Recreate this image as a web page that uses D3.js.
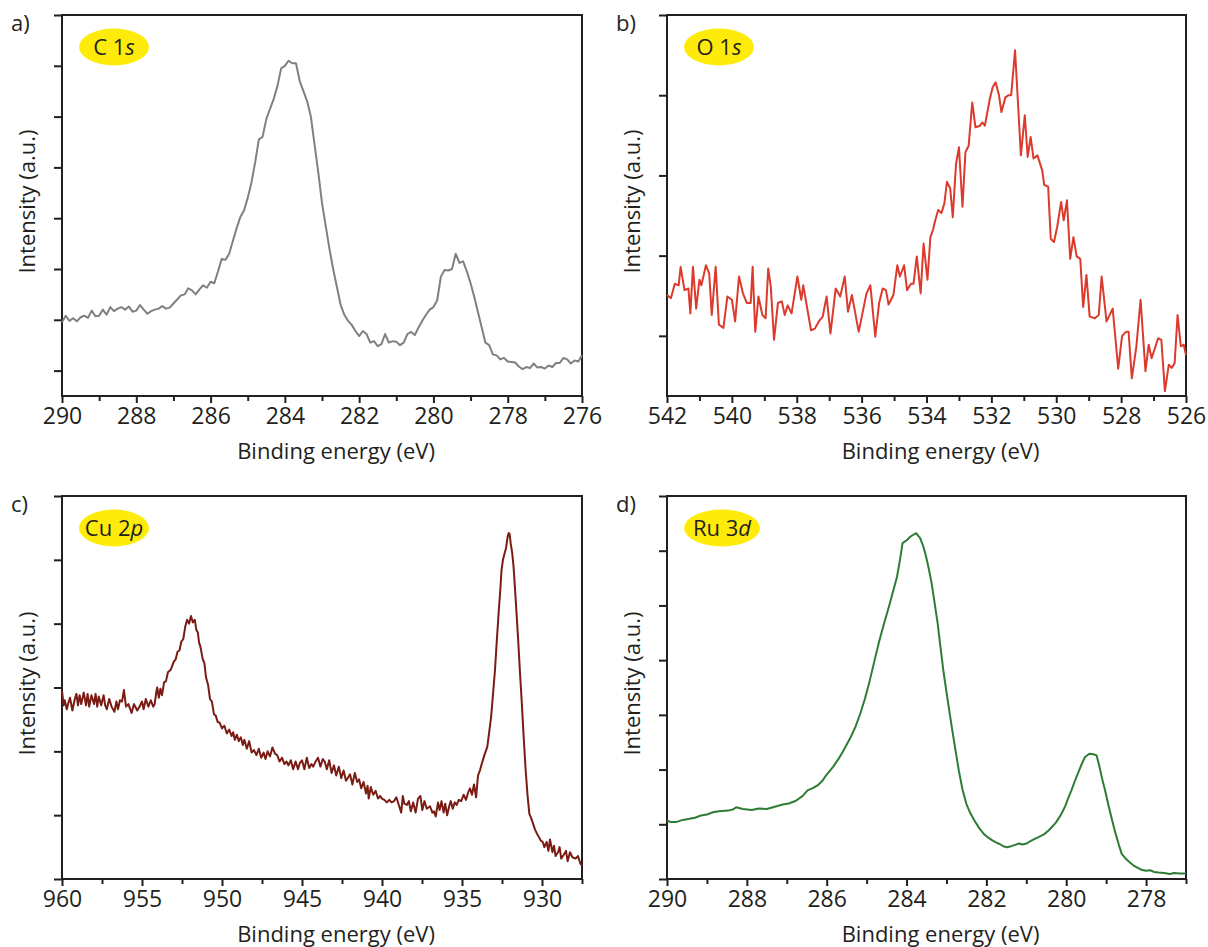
<!DOCTYPE html>
<html>
<head>
<meta charset="utf-8">
<script src="https://cdn.jsdelivr.net/npm/d3@7"></script>
<style>
  body { margin: 0; background: #fff; }
  svg { display: block; }
  text { font-family: "Open Sans", sans-serif; fill: #231f20; }
</style>
</head>
<body>
<div id="grafica"></div>
<script>
// datos: [energia de enlace (eV), intensidad (u.a.)]
var c1s = [
  [290.0,0.95],[289.9,1.08],[289.8,0.98],[289.7,1.03],[289.6,0.97],[289.5,1.05],[289.4,1.08],[289.3,1.04],
  [289.2,1.18],[289.1,1.07],[289.0,1.08],[288.9,1.2],[288.8,1.1],[288.7,1.25],[288.6,1.17],[288.5,1.22],
  [288.4,1.25],[288.3,1.2],[288.2,1.26],[288.1,1.16],[288.0,1.18],[287.9,1.29],[287.8,1.2],[287.7,1.12],
  [287.6,1.17],[287.5,1.2],[287.4,1.22],[287.3,1.27],[287.2,1.22],[287.1,1.24],[287.0,1.32],[286.9,1.4],
  [286.8,1.48],[286.7,1.5],[286.6,1.62],[286.5,1.58],[286.4,1.5],[286.3,1.6],[286.2,1.68],[286.1,1.63],
  [286.0,1.75],[285.9,1.72],[285.8,1.95],[285.7,2.2],[285.6,2.18],[285.5,2.3],[285.4,2.55],[285.3,2.8],
  [285.2,3.02],[285.1,3.15],[285.0,3.4],[284.9,3.7],[284.8,4.1],[284.7,4.55],[284.6,4.6],[284.5,4.95],
  [284.4,5.15],[284.3,5.35],[284.2,5.6],[284.1,5.95],[284.0,6.0],[283.9,6.1],[283.8,6.05],[283.7,6.05],
  [283.6,5.7],[283.5,5.5],[283.4,5.3],[283.3,5.0],[283.2,4.45],[283.1,3.9],[283.0,3.3],[282.9,2.85],
  [282.8,2.4],[282.7,2.0],[282.6,1.65],[282.5,1.3],[282.4,1.1],[282.3,0.98],[282.2,0.9],[282.1,0.78],
  [282.0,0.68],[281.9,0.78],[281.8,0.72],[281.7,0.55],[281.6,0.58],[281.5,0.48],[281.4,0.52],[281.3,0.72],
  [281.2,0.55],[281.1,0.58],[281.0,0.57],[280.9,0.5],[280.8,0.55],[280.7,0.72],[280.6,0.76],[280.5,0.7],
  [280.4,0.85],[280.3,0.98],[280.2,1.1],[280.1,1.2],[280.0,1.25],[279.9,1.38],[279.8,1.85],[279.7,1.98],
  [279.6,1.97],[279.5,2.0],[279.4,2.3],[279.3,2.12],[279.2,2.15],[279.1,1.95],[279.0,1.72],[278.9,1.45],
  [278.8,1.15],[278.7,0.85],[278.6,0.55],[278.5,0.5],[278.4,0.32],[278.3,0.3],[278.2,0.22],[278.1,0.25],
  [278.0,0.18],[277.9,0.17],[277.8,0.16],[277.7,0.08],[277.6,0.03],[277.5,0.07],[277.4,0.05],[277.3,0.14],
  [277.2,0.06],[277.1,0.07],[277.0,0.04],[276.9,0.1],[276.8,0.07],[276.7,0.15],[276.6,0.15],[276.5,0.25],
  [276.4,0.22],[276.3,0.14],[276.2,0.2],[276.1,0.18],[276.0,0.3]
];

var o1s = [
  [542.0,0.51],[541.88,0.47],[541.76,0.65],[541.64,0.63],[541.58,0.86],[541.46,0.57],[541.34,0.59],[541.28,0.28],
  [541.2,0.86],[541.1,0.34],[541.0,0.7],[540.94,0.63],[540.8,0.88],[540.7,0.78],[540.62,0.26],[540.5,0.86],
  [540.4,0.14],[540.26,0.1],[540.14,0.49],[540.0,0.45],[539.9,0.18],[539.78,0.74],[539.66,0.53],[539.54,0.41],
  [539.42,0.41],[539.36,0.86],[539.28,0.05],[539.18,0.49],[539.06,0.26],[538.96,0.22],[538.88,0.84],[538.8,0.61],
  [538.7,-0.05],[538.58,0.41],[538.46,0.43],[538.37,0.26],[538.28,0.38],[538.16,0.28],[537.98,0.74],[537.86,0.45],
  [537.8,0.63],[537.56,0.07],[537.44,0.09],[537.32,0.18],[537.2,0.24],[537.08,0.49],[536.96,0.03],[536.8,0.59],
  [536.66,0.49],[536.52,0.74],[536.42,0.3],[536.3,0.51],[536.09,0.05],[535.85,0.53],[535.73,0.63],[535.58,-0.01],
  [535.46,0.41],[535.35,0.59],[535.25,0.57],[535.17,0.39],[535.02,0.51],[534.9,0.88],[534.82,0.74],[534.69,0.88],
  [534.6,0.57],[534.48,0.65],[534.4,0.65],[534.3,0.99],[534.18,0.53],[534.09,1.15],[533.97,0.7],[533.88,1.23],
  [533.8,1.32],[533.73,1.44],[533.64,1.57],[533.54,1.53],[533.45,1.65],[533.37,1.92],[533.27,1.84],[533.19,1.48],
  [533.09,2.14],[533.0,2.35],[532.89,1.61],[532.8,2.29],[532.7,2.37],[532.59,2.91],[532.49,2.6],[532.35,2.62],
  [532.28,2.66],[532.2,2.62],[532.05,2.95],[531.96,3.1],[531.87,3.16],[531.77,3.01],[531.69,2.79],[531.57,2.97],
  [531.48,3.0],[531.39,3.0],[531.27,3.56],[531.09,2.25],[530.97,2.75],[530.88,2.23],[530.79,2.48],[530.7,2.21],
  [530.58,2.25],[530.43,2.06],[530.37,1.88],[530.25,1.86],[530.17,1.21],[530.07,1.17],[529.97,1.36],[529.85,1.67],
  [529.77,1.44],[529.67,1.69],[529.57,0.96],[529.47,1.23],[529.37,0.99],[529.26,0.96],[529.17,0.36],[529.07,0.76],
  [528.97,0.24],[528.81,0.22],[528.69,0.26],[528.6,0.74],[528.45,0.18],[528.26,0.34],[528.09,-0.41],[527.97,0.0],
  [527.85,0.05],[527.77,0.05],[527.67,-0.53],[527.53,-0.13],[527.4,0.45],[527.25,-0.44],[527.15,-0.11],[527.06,-0.28],
  [526.86,-0.03],[526.76,-0.05],[526.65,-0.69],[526.53,-0.36],[526.44,-0.4],[526.35,-0.34],[526.26,0.26],[526.16,-0.13],
  [526.07,-0.11],[526.0,-0.24]
];

var cu2p = [
  [960.0,2.95],[959.9,2.72],[959.83,2.8],[959.7,2.66],[959.6,2.76],[959.5,2.84],[959.35,2.64],[959.2,2.82],
  [959.1,2.9],[959.0,2.72],[958.9,2.88],[958.8,2.74],[958.64,2.92],[958.5,2.72],[958.4,2.9],[958.3,2.7],
  [958.16,2.88],[958.0,2.74],[957.9,2.9],[957.8,2.7],[957.7,2.86],[957.55,2.72],[957.4,2.88],[957.3,2.72],
  [957.2,2.66],[957.05,2.82],[956.9,2.7],[956.72,2.62],[956.6,2.78],[956.5,2.66],[956.38,2.8],[956.25,2.78],
  [956.13,2.96],[956.0,2.7],[955.85,2.74],[955.65,2.6],[955.5,2.74],[955.3,2.64],[955.15,2.7],[955.0,2.78],
  [954.9,2.66],[954.76,2.82],[954.6,2.7],[954.45,2.8],[954.3,2.7],[954.21,2.74],[954.1,2.94],[954.05,3.0],
  [953.95,2.84],[953.85,2.98],[953.75,2.88],[953.62,3.08],[953.5,3.1],[953.38,3.24],[953.2,3.28],[953.02,3.4],
  [952.9,3.44],[952.78,3.56],[952.66,3.58],[952.54,3.72],[952.42,3.76],[952.3,3.95],[952.18,4.06],[952.06,4.0],
  [951.94,4.12],[951.82,4.02],[951.7,4.06],[951.6,3.9],[951.51,3.86],[951.43,3.7],[951.35,3.64],[951.2,3.44],
  [951.1,3.38],[951.0,3.16],[950.87,3.04],[950.75,2.82],[950.63,2.78],[950.5,2.58],[950.39,2.56],[950.27,2.46],
  [950.15,2.45],[950.0,2.36],[949.85,2.4],[949.7,2.28],[949.55,2.34],[949.4,2.24],[949.3,2.3],[949.2,2.18],
  [949.07,2.26],[948.95,2.16],[948.82,2.22],[948.7,2.1],[948.6,2.18],[948.45,2.04],[948.3,2.16],[948.15,1.98],
  [948.0,2.02],[947.85,1.94],[947.7,2.04],[947.55,1.9],[947.4,1.98],[947.28,1.88],[947.15,2.0],[947.0,1.92],
  [946.85,2.06],[946.68,1.96],[946.55,1.94],[946.4,1.84],[946.25,1.9],[946.1,1.8],[945.97,1.84],[945.85,1.78],
  [945.7,1.86],[945.55,1.72],[945.4,1.84],[945.25,1.72],[945.13,1.82],[945.0,1.86],[944.85,1.72],[944.7,1.9],
  [944.55,1.74],[944.41,1.8],[944.3,1.76],[944.15,1.84],[944.0,1.9],[943.85,1.76],[943.7,1.88],[943.58,1.84],
  [943.45,1.72],[943.3,1.86],[943.15,1.66],[943.0,1.78],[942.86,1.62],[942.7,1.76],[942.55,1.58],[942.4,1.7],
  [942.25,1.54],[942.14,1.58],[942.0,1.64],[941.85,1.48],[941.7,1.66],[941.55,1.52],[941.43,1.56],[941.3,1.42],
  [941.15,1.52],[941.0,1.34],[940.9,1.46],[940.83,1.26],[940.7,1.44],[940.55,1.32],[940.4,1.38],[940.25,1.26],
  [940.11,1.3],[940.0,1.26],[939.85,1.24],[939.7,1.2],[939.55,1.24],[939.4,1.2],[939.25,1.22],[939.1,1.28],
  [938.95,1.16],[938.8,1.04],[938.7,1.3],[938.6,1.18],[938.45,1.16],[938.32,1.22],[938.2,1.06],[938.05,1.2],
  [937.9,1.04],[937.75,1.26],[937.6,1.3],[937.48,1.08],[937.35,1.22],[937.2,1.1],[937.0,1.14],[936.85,1.04],
  [936.75,1.06],[936.64,0.98],[936.5,1.2],[936.4,1.08],[936.28,1.22],[936.15,1.04],[936.05,1.18],[935.93,1.0],
  [935.8,1.14],[935.7,1.22],[935.58,1.1],[935.45,1.2],[935.33,1.16],[935.2,1.24],[935.05,1.22],[934.9,1.32],
  [934.75,1.24],[934.61,1.36],[934.5,1.42],[934.38,1.32],[934.25,1.48],[934.12,1.28],[934.0,1.62],[933.88,1.7],
  [933.77,1.8],[933.6,1.94],[933.42,2.07],[933.3,2.3],[933.18,2.54],[933.06,2.9],[932.94,3.27],[932.82,3.75],
  [932.7,4.21],[932.6,4.55],[932.53,4.84],[932.44,5.0],[932.34,5.1],[932.25,5.18],[932.15,5.36],[932.08,5.42],
  [932.03,5.41],[931.95,5.25],[931.86,5.1],[931.78,4.9],[931.7,4.6],[931.6,4.2],[931.5,3.79],[931.38,3.25],
  [931.26,2.75],[931.14,2.2],[931.02,1.7],[930.9,1.3],[930.79,1.02],[930.67,0.95],[930.55,0.86],[930.43,0.77],
  [930.31,0.71],[930.2,0.66],[930.07,0.6],[929.95,0.58],[929.85,0.5],[929.71,0.58],[929.6,0.44],[929.5,0.62],
  [929.35,0.42],[929.25,0.52],[929.15,0.36],[929.0,0.42],[928.9,0.5],[928.8,0.32],[928.64,0.38],[928.5,0.44],
  [928.4,0.28],[928.25,0.42],[928.1,0.34],[927.9,0.32],[927.75,0.36],[927.6,0.24],[927.5,0.21]
];

var ru3d = [
  [290.0,1.07],[289.9,1.04],[289.78,1.04],[289.6,1.08],[289.44,1.1],[289.3,1.12],[289.15,1.16],[289.0,1.18],
  [288.85,1.22],[288.7,1.24],[288.47,1.25],[288.35,1.27],[288.27,1.31],[288.1,1.28],[287.88,1.26],[287.7,1.29],
  [287.5,1.28],[287.3,1.32],[287.1,1.36],[286.95,1.38],[286.77,1.43],[286.6,1.52],[286.48,1.62],[286.35,1.66],
  [286.23,1.71],[286.1,1.8],[286.04,1.87],[285.84,2.05],[285.7,2.2],[285.6,2.32],[285.4,2.59],[285.28,2.78],
  [285.16,3.02],[285.04,3.3],[284.92,3.63],[284.8,4.0],[284.68,4.36],[284.56,4.68],[284.44,4.98],[284.34,5.25],
  [284.24,5.52],[284.16,5.85],[284.1,6.14],[283.98,6.2],[283.9,6.26],[283.76,6.32],[283.66,6.23],[283.58,6.08],
  [283.51,5.89],[283.44,5.66],[283.37,5.4],[283.3,5.06],[283.22,4.67],[283.15,4.24],[283.08,3.82],[282.98,3.32],
  [282.88,2.84],[282.78,2.38],[282.69,1.98],[282.6,1.64],[282.5,1.37],[282.4,1.2],[282.3,1.07],[282.18,0.93],
  [282.06,0.82],[281.96,0.76],[281.86,0.71],[281.76,0.67],[281.67,0.64],[281.58,0.6],[281.48,0.58],[281.38,0.6],
  [281.3,0.62],[281.18,0.65],[281.1,0.63],[280.99,0.65],[280.9,0.69],[280.8,0.73],[280.68,0.77],[280.55,0.82],
  [280.45,0.88],[280.36,0.95],[280.26,1.03],[280.17,1.13],[280.1,1.22],[280.02,1.34],[279.95,1.48],[279.87,1.62],
  [279.78,1.8],[279.68,1.98],[279.6,2.12],[279.53,2.23],[279.42,2.29],[279.32,2.28],[279.24,2.26],[279.17,2.06],
  [279.1,1.83],[279.02,1.6],[278.95,1.37],[278.86,1.1],[278.76,0.82],[278.68,0.62],[278.61,0.46],[278.52,0.38],
  [278.42,0.31],[278.32,0.25],[278.22,0.21],[278.12,0.17],[278.0,0.15],[277.9,0.16],[277.8,0.13],[277.69,0.12],
  [277.55,0.11],[277.4,0.09],[277.3,0.11],[277.15,0.1],[277.0,0.1]
];

// ejes: dominios y marcas
var c1sX = [290, 276], c1sY = [-0.5, 7], c1sMajor = [290, 288, 286, 284, 282, 280, 278, 276], c1sMinor = [289, 287, 285, 283, 281, 279, 277];
var o1sX = [542, 526], o1sY = [-0.75, 4], o1sMajor = [542, 540, 538, 536, 534, 532, 530, 528, 526], o1sMinor = [541, 539, 537, 535, 533, 531, 529, 527];
var cu2pX = [960, 927.5], cu2pY = [0, 6], cu2pMajor = [960, 955, 950, 945, 940, 935, 930], cu2pMinor = [957.5, 952.5, 947.5, 942.5, 937.5, 932.5, 927.5];
var ru3dX = [290, 277], ru3dY = [0, 7], ru3dMajor = [290, 288, 286, 284, 282, 280, 278], ru3dMinor = [289, 287, 285, 283, 281, 279, 277];
var c1sYticks = [0, 1, 2, 3, 4, 5, 6, 7];
var o1sYticks = [0, 1, 2, 3, 4];
var cu2pYticks = [0, 1, 2, 3, 4, 5, 6];
var ru3dYticks = [0, 1, 2, 3, 4, 5, 6, 7];

var svg = d3.select("#grafica")
  .append("svg")
  .attr("width", 1208)
  .attr("height", 947);

function panel(cfg) {
  var x = d3.scaleLinear().domain(cfg.xd).range([cfg.left, cfg.right]);
  var y = d3.scaleLinear().domain(cfg.yd).range([cfg.bottom, cfg.top]);
  var g = svg.append("g");

  // caja
  g.append("rect")
    .attr("x", cfg.left).attr("y", cfg.top)
    .attr("width", cfg.right - cfg.left).attr("height", cfg.bottom - cfg.top)
    .attr("fill", "none").attr("stroke", "#231f20").attr("stroke-width", 2);

  var ax = g.append("g").attr("transform", "translate(0," + cfg.bottom + ")")
    .call(d3.axisBottom(x).tickValues(cfg.major).tickSize(7).tickSizeOuter(0).tickPadding(5).tickFormat(d3.format("d")));
  var axm = g.append("g").attr("transform", "translate(0," + cfg.bottom + ")")
    .call(d3.axisBottom(x).tickValues(cfg.minor).tickSize(5).tickSizeOuter(0).tickFormat(""));
  var ay = g.append("g").attr("transform", "translate(" + cfg.left + ",0)")
    .call(d3.axisLeft(y).tickValues(cfg.yt).tickSize(8).tickSizeOuter(0).tickFormat(""));
  [ax, axm, ay].forEach(function (a) {
    a.select(".domain").remove();
    a.selectAll("line").attr("stroke", "#231f20").attr("stroke-width", 2);
  });
  ax.selectAll("text").attr("font-size", 23).attr("fill", "#231f20")
    .attr("font-family", "'Open Sans', sans-serif");

  // linea
  g.append("path")
    .datum(cfg.data)
    .attr("fill", "none")
    .attr("stroke", cfg.color)
    .attr("stroke-width", 2)
    .attr("stroke-linejoin", "round")
    .attr("d", d3.line().x(function (d) { return x(d[0]); }).y(function (d) { return y(d[1]); }));

  // titulos
  g.append("text")
    .attr("x", (cfg.left + cfg.right) / 2 + 14).attr("y", cfg.bottom + 63)
    .attr("text-anchor", "middle").attr("font-size", 22)
    .text("Binding energy (eV)");
  g.append("text")
    .attr("transform", "translate(" + (cfg.left - 27) + "," + ((cfg.top + cfg.bottom) / 2 - 4) + ") rotate(-90)")
    .attr("text-anchor", "middle").attr("font-size", 22)
    .text("Intensity (a.u.)");
  g.append("text")
    .attr("x", cfg.left - 51).attr("y", cfg.top + 16)
    .attr("font-size", 22)
    .text(cfg.letter);

  // etiqueta amarilla
  g.append("ellipse")
    .attr("cx", cfg.left + 52 + cfg.bx).attr("cy", cfg.top + 32)
    .attr("rx", 35 + cfg.bx).attr("ry", 18.5)
    .attr("fill", "#ffeb0a");
  var t = g.append("text")
    .attr("x", cfg.left + 52 + cfg.bx).attr("y", cfg.top + 40)
    .attr("text-anchor", "middle").attr("font-size", 22);
  t.append("tspan").text(cfg.label[0]);
  t.append("tspan").attr("font-style", "italic").text(cfg.label[1]);
}

panel({ data: c1s, xd: c1sX, yd: c1sY, major: c1sMajor, minor: c1sMinor, yt: c1sYticks,
  left: 62, right: 582, top: 15, bottom: 396, color: "#808080", letter: "a)", label: ["C 1", "s"], bx: 0 });
panel({ data: o1s, xd: o1sX, yd: o1sY, major: o1sMajor, minor: o1sMinor, yt: o1sYticks,
  left: 667, right: 1186, top: 15, bottom: 396, color: "#dc3a2c", letter: "b)", label: ["O 1", "s"], bx: 0 });
panel({ data: cu2p, xd: cu2pX, yd: cu2pY, major: cu2pMajor, minor: cu2pMinor, yt: cu2pYticks,
  left: 62, right: 582, top: 496, bottom: 879, color: "#7a1c14", letter: "c)", label: ["Cu 2", "p"], bx: 0 });
panel({ data: ru3d, xd: ru3dX, yd: ru3dY, major: ru3dMajor, minor: ru3dMinor, yt: ru3dYticks,
  left: 667, right: 1186, top: 496, bottom: 879, color: "#2e7d34", letter: "d)", label: ["Ru 3", "d"], bx: 3 });
</script>
</body>
</html>
